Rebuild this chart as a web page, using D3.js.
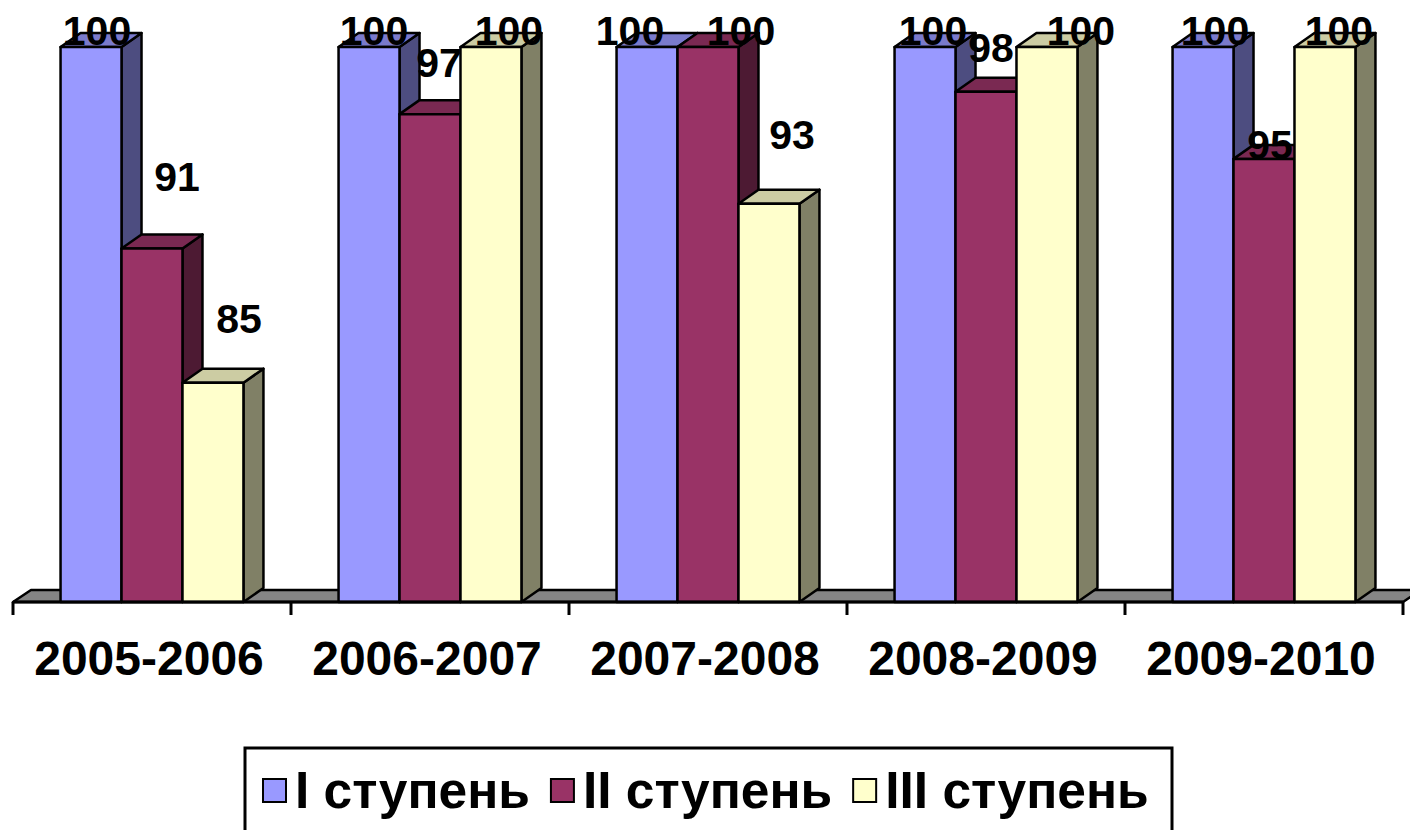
<!DOCTYPE html>
<html>
<head>
<meta charset="utf-8">
<script src="https://cdn.jsdelivr.net/npm/d3@7"></script>
<style>
  body { margin: 0; background: #fff; }
  svg { display: block; font-family: "Liberation Sans", Arial, sans-serif; }
</style>
</head>
<body>
<div class="chart"></div>
<script>
////////// DATA //////////

var years = ["2005-2006", "2006-2007", "2007-2008", "2008-2009", "2009-2010"];
var series = ["I ступень", "II ступень", "III ступень"];

var stage1 = [100, 100, 100, 100, 100];
var stage2 = [91, 97, 100, 98, 95];
var stage3 = [85, 100, 93, 100, 100];

// label nudges (px) — Excel put the 3D labels a bit off the bar tops
var nudge1 = [[-4, 0], [-5, 0], [-27, 0], [-2, 0], [2, 0]];
var nudge2 = [[15, -55], [-1, -35], [23, 0], [-5, -28], [-4, 2]];
var nudge3 = [[16, -48], [8, 0], [13, -53], [24, 0], [4, 0]];


////////// SETUP //////////

var width = 1410, height = 830;
var floorY = 602;
var DX = 20, DY = 14;

var colours = [
  { front: "#9999ff", top: "#7a7acc", side: "#4d4d80" },
  { front: "#993366", top: "#7a2952", side: "#4d1a33" },
  { front: "#ffffcc", top: "#cccca3", side: "#808066" }
];

var values = [stage1, stage2, stage3];
var nudges = [nudge1, nudge2, nudge3];

var x0 = d3.scaleBand()
    .domain(years)
    .range([13, 1403])
    .padding(0);

var x1 = d3.scaleBand()
    .domain(series)
    .range([0, x0.bandwidth()])
    .paddingInner(0)
    .paddingOuter(0.78);

var y = d3.scaleLinear()
    .domain([75.2, 100])
    .range([floorY, 47]);

var svg = d3.select(".chart")
    .append("svg")
    .attr("width", width)
    .attr("height", height);


////////// FLOOR //////////

svg.append("path")
    .attr("d", "M" + x0.range()[0] + "," + floorY +
               "L" + x0.range()[1] + "," + floorY +
               "L" + (x0.range()[1] + 18) + "," + (floorY - 12) +
               "L" + (x0.range()[0] + 18) + "," + (floorY - 12) + "Z")
    .attr("fill", "#858585")
    .attr("stroke", "#000")
    .attr("stroke-width", 2.5)
    .attr("stroke-linejoin", "round");

var ticks = years.map(function(d) { return x0(d); }).concat([x0.range()[1]]);

svg.append("g")
    .attr("class", "ticks")
  .selectAll("line")
    .data(ticks)
    .enter()
    .append("line")
    .attr("x1", function(d) { return d; })
    .attr("x2", function(d) { return d; })
    .attr("y1", floorY)
    .attr("y2", floorY + 13)
    .attr("stroke", "#000")
    .attr("stroke-width", 3);


////////// BARS //////////

var bars = svg.append("g").attr("class", "bars");

years.forEach(function(year, i) {
  series.forEach(function(s, j) {
    var v = values[j][i];
    var c = colours[j];
    var xl = x0(year) + x1(s);
    var xr = xl + x1.bandwidth();
    var yt = y(v);
    var g = bars.append("g");

    // right side
    g.append("path")
        .attr("d", "M" + xr + "," + floorY + "L" + xr + "," + yt +
                   "L" + (xr + DX) + "," + (yt - DY) +
                   "L" + (xr + DX) + "," + (floorY - DY) + "Z")
        .attr("fill", c.side);

    // top
    g.append("path")
        .attr("d", "M" + xl + "," + yt + "L" + xr + "," + yt +
                   "L" + (xr + DX) + "," + (yt - DY) +
                   "L" + (xl + DX) + "," + (yt - DY) + "Z")
        .attr("fill", c.top);

    // front
    g.append("rect")
        .attr("x", xl)
        .attr("y", yt)
        .attr("width", x1.bandwidth())
        .attr("height", floorY - yt)
        .attr("fill", c.front);

    g.selectAll("path, rect")
        .attr("stroke", "#000")
        .attr("stroke-width", 2.5)
        .attr("stroke-linejoin", "round");

    // value label
    g.append("text")
        .attr("x", xl + x1.bandwidth() / 2 + DX / 2 + nudges[j][i][0])
        .attr("y", yt - 2 + nudges[j][i][1])
        .attr("text-anchor", "middle")
        .style("font-size", "41px")
        .style("font-weight", "bold")
        .text(v);
  });
});

// front baseline over the bars' feet
svg.append("line")
    .attr("x1", x0.range()[0])
    .attr("x2", x0.range()[1])
    .attr("y1", floorY)
    .attr("y2", floorY)
    .attr("stroke", "#000")
    .attr("stroke-width", 3);


////////// CATEGORY LABELS //////////

svg.append("g")
    .attr("class", "x-labels")
  .selectAll("text")
    .data(years)
    .enter()
    .append("text")
    .attr("x", function(d) { return x0(d) + x0.bandwidth() / 2 - 3; })
    .attr("y", 675)
    .attr("text-anchor", "middle")
    .style("font-size", "48px")
    .style("font-weight", "bold")
    .text(function(d) { return d; });


////////// LEGEND //////////

var legend = svg.append("g").attr("class", "legend");

legend.append("rect")
    .attr("x", 245)
    .attr("y", 748)
    .attr("width", 927)
    .attr("height", 120)
    .attr("fill", "#fff")
    .attr("stroke", "#000")
    .attr("stroke-width", 3);

var lx = 263;
series.forEach(function(s, j) {
  legend.append("rect")
      .attr("x", lx)
      .attr("y", 779)
      .attr("width", 23)
      .attr("height", 23)
      .attr("fill", colours[j].front)
      .attr("stroke", "#000")
      .attr("stroke-width", 2);

  var t = legend.append("text")
      .attr("x", lx + 32)
      .attr("y", 808)
      .style("font-size", "51.5px")
      .style("font-weight", "bold")
      .text(s);

  lx = lx + 32 + t.node().getComputedTextLength() + 21;
});
</script>
</body>
</html>
